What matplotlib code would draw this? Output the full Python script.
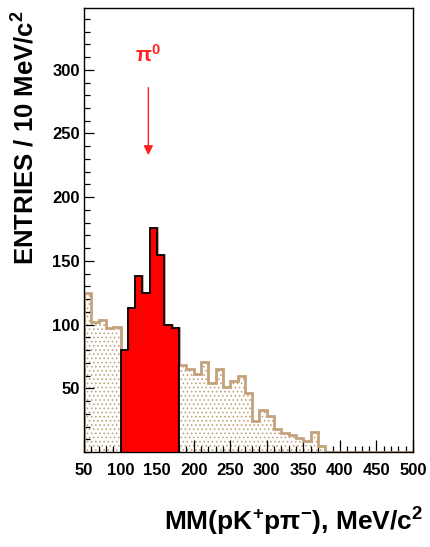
import numpy as np
import matplotlib
matplotlib.use("Agg")
import matplotlib.pyplot as plt
from matplotlib.ticker import MultipleLocator, FixedLocator

# ── data (10 MeV bins, 50..500) ──
bin_lo = 50
bin_width = 10
entries = [125, 102, 104, 97, 98,                    # 50-100
           80, 113, 138, 125, 176, 155, 100, 97,     # 100-180 (signal window)
           68, 65, 61, 71, 54, 65, 51, 56, 60, 46,   # 180-280
           24, 33, 28, 18, 15, 13, 11, 9, 16, 5,     # 280-380
           0, 0, 0, 0, 0, 0, 0, 0, 0, 0, 0, 0]       # 380-500
signal_lo, signal_hi = 100, 180
pi0_mass = 138
arrow_top, arrow_tip = 286, 233

x_major = [50, 100, 150, 200, 250, 300, 350, 400, 450, 500]
y_major = [50, 100, 150, 200, 250, 300]

BEIGE = "#c4a27c"

plt.rcParams["font.family"] = ["Liberation Sans", "DejaVu Sans"]
plt.rcParams["font.weight"] = "bold"
plt.rcParams["mathtext.fontset"] = "custom"
plt.rcParams["mathtext.rm"] = "Liberation Sans:bold"
plt.rcParams["mathtext.bf"] = "Liberation Sans:bold"
plt.rcParams["mathtext.it"] = "Liberation Sans:bold"
plt.rcParams["hatch.color"] = BEIGE
plt.rcParams["hatch.linewidth"] = 0.7

edges = bin_lo + bin_width * np.arange(len(entries) + 1)
vals = np.array(entries, dtype=float)

fig = plt.figure(figsize=(4.30, 5.47), dpi=100)
ax = fig.add_axes([84 / 430, 1 - 452 / 547, 329 / 430, 444 / 547])

# background: dotted fill + beige outline
ax.stairs(vals, edges, fill=True, facecolor="white", edgecolor=BEIGE,
          hatch="....", linewidth=0, zorder=1)
ax.stairs(vals, edges, fill=False, color=BEIGE, linewidth=2.0, zorder=2)

# signal window in red
sel = (edges[:-1] >= signal_lo) & (edges[:-1] < signal_hi)
sig_edges = np.append(edges[:-1][sel], signal_hi)
ax.stairs(vals[sel], sig_edges, fill=True, facecolor="#ff0000",
          edgecolor="black", linewidth=1.3, zorder=3)

# pi0 marker
ax.annotate("", xy=(pi0_mass, arrow_tip), xytext=(pi0_mass, arrow_top),
            arrowprops=dict(arrowstyle="-|>", color="#ff2020", lw=1.0,
                            mutation_scale=14, shrinkA=0, shrinkB=0))
ax.text(pi0_mass, 312, "π$^{0}$", color="#ff2020", fontsize=15,
        ha="center", va="center")

ax.set_xlim(50, 500)
ax.set_ylim(0, 348.5)

ax.xaxis.set_major_locator(FixedLocator(x_major))
ax.xaxis.set_minor_locator(MultipleLocator(10))
ax.yaxis.set_major_locator(FixedLocator(y_major))
ax.yaxis.set_minor_locator(MultipleLocator(10))
ax.tick_params(axis="both", which="both", direction="in", top=False,
               right=False, color="black", width=0.9)
ax.tick_params(axis="x", which="major", length=9, pad=8, labelsize=12)
ax.tick_params(axis="x", which="minor", length=4.5)
ax.tick_params(axis="y", which="major", length=7.5, pad=3, labelsize=12)
ax.tick_params(axis="y", which="minor", length=4)
for lab in ax.get_xticklabels() + ax.get_yticklabels():
    lab.set_fontweight("bold")
for sp in ax.spines.values():
    sp.set_linewidth(1.0)
    sp.set_zorder(5)

fig.text(423 / 430, 1 - 522 / 547, "MM(pK$^{+}$pπ$^{-}$), MeV/c$^{2}$",
         fontsize=19, fontweight="bold", ha="right", va="center")
fig.text(26 / 430, 1 - 10 / 547, r"ENTRIES / 10 MeV/c$^{2}$",
         fontsize=18.5, fontweight="bold", rotation=90, ha="center", va="top")

fig.savefig("out.png", dpi=100)
